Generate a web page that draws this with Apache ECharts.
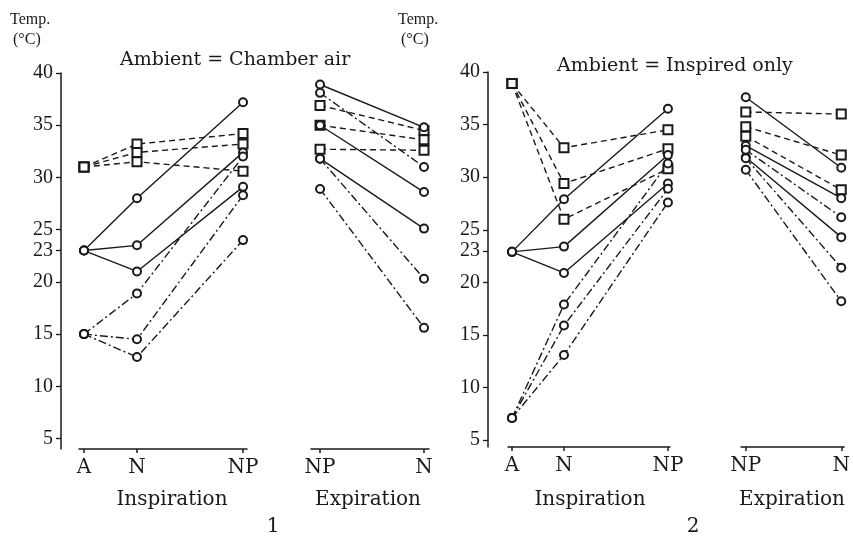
<!DOCTYPE html>
<html>
<head>
<meta charset="utf-8">
<script src="https://cdn.jsdelivr.net/npm/echarts@6/dist/echarts.min.js"></script>
<style>
  html, body { margin: 0; padding: 0; background: #fff; }
  #chart { width: 853px; height: 542px; }
</style>
</head>
<body>
<div id="chart"></div>
<script>
// x positions (A and N one step apart, N to NP two steps) and their labels
const inspPos = [0, 1, 3];
const inspLabels = ['A', 'N', 'NP'];
const expPos = [0, 1];
const expLabels = ['NP', 'N'];
const yTicks = [5, 10, 15, 20, 23, 25, 30, 35, 40];

// panel 1, ambient = chamber air
const p1InspDashed = [[31.0, 33.2, 34.2], [31.0, 32.4, 33.2], [31.0, 31.5, 30.6]];
const p1InspSolid = [[23.0, 28.0, 37.2], [23.0, 23.5, 32.4], [23.0, 21.0, 29.1]];
const p1InspDashDot = [[15.0, 18.9, 32.0], [15.0, 14.5, 28.3], [15.0, 12.8, 24.0]];
const p1ExpDashed = [[36.9, 34.5], [35.0, 33.6], [32.7, 32.6]];
const p1ExpSolid = [[38.9, 34.8], [35.0, 28.6], [31.8, 25.1]];
const p1ExpDashDot = [[38.1, 31.0], [31.8, 20.3], [28.9, 15.6]];

// panel 2, ambient = inspired only
const p2InspDashed = [[38.9, 32.8, 34.5], [38.9, 29.4, 32.7], [38.9, 26.0, 30.8]];
const p2InspSolid = [[22.9, 27.9, 36.5], [22.9, 23.4, 32.1], [22.9, 20.9, 29.4]];
const p2InspDashDot = [[7.1, 17.9, 31.3], [7.1, 15.9, 28.9], [7.1, 13.1, 27.6]];
const p2ExpDashed = [[36.2, 36.0], [34.8, 32.1], [33.9, 28.8]];
const p2ExpSolid = [[37.6, 30.9], [33.0, 28.0], [31.9, 24.3]];
const p2ExpDashDot = [[32.6, 26.2], [31.8, 21.4], [30.7, 18.2]];

const ink = '#1a1a1a';
const serif = 'DejaVu Serif';
const numFont = 'Liberation Serif';

const styles = {
  solid: { type: 'solid', symbol: 'emptyCircle', size: 8 },
  dashed: { type: [6, 4], symbol: 'emptyRect', size: 9 },
  dashdot: { type: [8, 3, 2, 3], symbol: 'emptyCircle', size: 8 }
};

function makeSeries(rows, pos, kind, idx) {
  const st = styles[kind];
  return rows.map(function (r) {
    return {
      type: 'line',
      xAxisIndex: idx,
      yAxisIndex: idx,
      data: r.map(function (v, i) { return [pos[i], v]; }),
      symbol: st.symbol,
      symbolSize: st.size,
      lineStyle: { color: ink, width: 1.4, type: st.type },
      itemStyle: { color: ink, borderWidth: 1.3 },
      silent: true,
      animation: false
    };
  });
}

function xAx(idx, pos, labels, min, max) {
  return {
    type: 'value', gridIndex: idx, min: min, max: max,
    axisLine: { show: true, onZero: false, lineStyle: { color: ink, width: 1.5 } },
    axisTick: { show: true, customValues: pos, length: 4, lineStyle: { color: ink, width: 1.5 } },
    axisLabel: {
      customValues: pos, margin: 9, color: ink, fontFamily: serif, fontSize: 20,
      formatter: function (v) { return labels[pos.indexOf(v)]; }
    },
    splitLine: { show: false }
  };
}

function yAx(idx, show, min, offset) {
  return {
    type: 'value', gridIndex: idx, min: min, max: 40, show: show, offset: offset,
    axisLine: { show: true, onZero: false, lineStyle: { color: ink, width: 1.5 } },
    axisTick: { show: true, customValues: yTicks, length: 5, lineStyle: { color: ink, width: 1.3 } },
    axisLabel: { customValues: yTicks, margin: 8, color: ink, fontFamily: numFont, fontSize: 20 },
    splitLine: { show: false }
  };
}

function txt(x, y, s, size, align, font) {
  return {
    type: 'text', x: x, y: y,
    style: { text: s, fill: ink, font: size + 'px "' + (font || serif) + '"', align: align || 'left', verticalAlign: 'middle' }
  };
}

const chart = echarts.init(document.getElementById('chart'));
chart.setOption({
  backgroundColor: '#fff',
  animation: false,
  grid: [
    { left: 79, top: 73, width: 168, height: 376 },
    { left: 311, top: 73, width: 118, height: 376 },
    { left: 508, top: 72, width: 162, height: 375 },
    { left: 741, top: 72, width: 108, height: 375 }
  ],
  xAxis: [
    xAx(0, inspPos, inspLabels, -0.094, 3.075),
    xAx(1, expPos, expLabels, -0.087, 1.048),
    xAx(2, inspPos, inspLabels, -0.077, 3.04),
    xAx(3, expPos, expLabels, -0.05, 1.03)
  ],
  yAxis: [
    yAx(0, true, 4, 18),
    yAx(1, false, 4, 0),
    yAx(2, true, 4.35, 20),
    yAx(3, false, 4.35, 0)
  ],
  graphic: [
    txt(10, 20, 'Temp.', 16, 'left', numFont),
    txt(13, 40, '(°C)', 16, 'left', numFont),
    txt(120, 60, 'Ambient = Chamber air', 19),
    txt(398, 20, 'Temp.', 16, 'left', numFont),
    txt(401, 40, '(°C)', 16, 'left', numFont),
    txt(557, 66, 'Ambient = Inspired only', 19),
    txt(172, 500, 'Inspiration', 20, 'center'),
    txt(368, 500, 'Expiration', 20, 'center'),
    txt(590, 500, 'Inspiration', 20, 'center'),
    txt(792, 500, 'Expiration', 20, 'center'),
    txt(273, 527, '1', 20, 'center'),
    txt(693, 527, '2', 20, 'center')
  ],
  series: [].concat(
    makeSeries(p1InspDashed, inspPos, 'dashed', 0),
    makeSeries(p1InspSolid, inspPos, 'solid', 0),
    makeSeries(p1InspDashDot, inspPos, 'dashdot', 0),
    makeSeries(p1ExpDashed, expPos, 'dashed', 1),
    makeSeries(p1ExpSolid, expPos, 'solid', 1),
    makeSeries(p1ExpDashDot, expPos, 'dashdot', 1),
    makeSeries(p2InspDashed, inspPos, 'dashed', 2),
    makeSeries(p2InspSolid, inspPos, 'solid', 2),
    makeSeries(p2InspDashDot, inspPos, 'dashdot', 2),
    makeSeries(p2ExpDashed, expPos, 'dashed', 3),
    makeSeries(p2ExpSolid, expPos, 'solid', 3),
    makeSeries(p2ExpDashDot, expPos, 'dashdot', 3)
  )
});
window.addEventListener('resize', function () {
  chart.resize();
});
</script>
</body>
</html>
